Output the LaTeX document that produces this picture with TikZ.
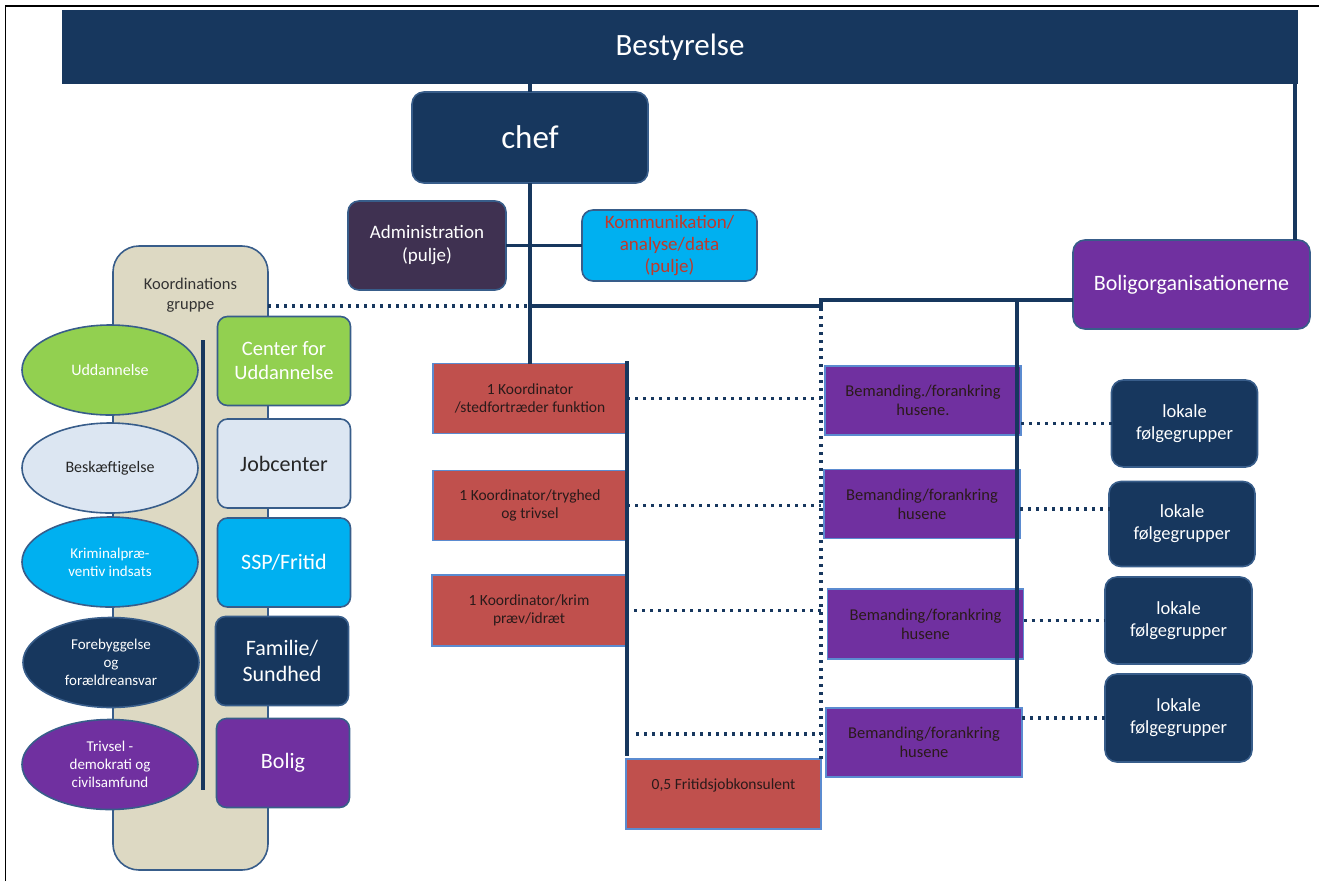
\documentclass[tikz,border=0pt]{standalone}
\usepackage{fontspec}
\setmainfont{Carlito}
\usetikzlibrary{shapes.geometric}
\definecolor{navy}{HTML}{17375E}
\definecolor{purp}{HTML}{7030A0}
\definecolor{cyanb}{HTML}{00B0F0}
\definecolor{greenb}{HTML}{92D050}
\definecolor{lightb}{HTML}{DCE6F2}
\definecolor{redb}{HTML}{C0504D}
\definecolor{tanb}{HTML}{DDD9C3}
\definecolor{adminc}{HTML}{3F3151}
\definecolor{edgeb}{HTML}{385D8A}
\definecolor{edgel}{HTML}{5B8BD0}
\definecolor{ktext}{HTML}{C0392B}
\definecolor{dtext}{HTML}{2A1A1A}
\newcommand\fsz[2]{\fontsize{#1}{#2}\selectfont}
\begin{document}
\begin{tikzpicture}[x=1pt,y=-1pt,
  box/.style={draw=edgeb, line width=1.6pt, inner sep=2pt, outer sep=0pt, align=center, anchor=center},
  rbox/.style={box, rounded corners=12pt},
  sbox/.style={box, draw=edgel, line width=1.8pt},
  ell/.style={box, ellipse, minimum width=176pt, minimum height=90pt, inner sep=0pt},
  lbox/.style={rbox, rounded corners=10pt, minimum width=133pt, minimum height=89pt},
  redbox/.style={sbox, fill=redb, text=dtext, minimum width=194pt, minimum height=70pt, font=\fsz{15.5}{18.5}},
  bembox/.style={sbox, fill=purp, text=dtext, minimum width=196pt, minimum height=69pt, font=\fsz{16.5}{19}},
  lokbox/.style={rbox, fill=navy, text=white, minimum width=146pt, minimum height=87pt, font=\fsz{18.5}{22}},
  conn/.style={draw=navy, line width=3.4pt},
  dotc/.style={draw=navy, line width=3.4pt, dash pattern=on 3pt off 5pt}]
\useasboundingbox (0,0) rectangle (1319,881);
% frame
\draw[line width=1.8pt, black] (5.5,881) -- (5.5,6) -- (1319,6);

% top
\node[box, draw=none, fill=navy, text=white, minimum width=1236pt, minimum height=74pt, font=\fsz{31}{36}] (best) at (680,47) {Bestyrelse};
\node[rbox, fill=navy, text=white, minimum width=236pt, minimum height=91pt, font=\fsz{33}{38}] (chef) at (530,137.5) {chef};
\node[rbox, rounded corners=11pt, fill=adminc, text=white, minimum width=158pt, minimum height=89pt, font=\fsz{19}{23}] (admin) at (427,245.5) {Administration\\(pulje)};
\node[rbox, rounded corners=11pt, fill=cyanb, text=ktext, minimum width=175pt, minimum height=71pt, font=\fsz{19}{22}] (komm) at (669.5,245.5) {Kommunikation/\\analyse/data\\(pulje)};
\node[rbox, fill=purp, text=white, minimum width=237pt, minimum height=89pt, font=\fsz{22}{25}] (borg) at (1191.5,284.5) {Boligorganisationerne};

% koordinationsgruppe
\node[box, rounded corners=26pt, fill=tanb, minimum width=155pt, minimum height=624pt] (kg) at (190.5,558) {};
\node[text=black!80, align=center, font=\fsz{16.5}{19.5}] (kgt) at (190.5,295) {Koordinations\\gruppe};
\coordinate (kl1) at (203,340);
\coordinate (kl2) at (203,790);
\draw[conn] (kl1) -- (kl2);

% ellipses
\node[ell, fill=greenb, text=white, font=\fsz{16}{18}] (e1) at (110,370) {Uddannelse};
\node[ell, fill=lightb, text=black!85, font=\fsz{16}{18}] (e2) at (110,468) {Beskæftigelse};
\node[ell, fill=cyanb, text=white, font=\fsz{15}{18}] (e3) at (110,562) {Kriminalpræ-\\ventiv indsats};
\node[ell, fill=navy, text=white, font=\fsz{15}{18}] (e4) at (111,662.5) {Forebyggelse\\og\\forældreansvar};
\node[ell, fill=purp, text=white, font=\fsz{15}{18}] (e5) at (110,764.5) {Trivsel -\\demokrati og\\civilsamfund};

% right column boxes
\node[lbox, fill=greenb, text=white, font=\fsz{20.5}{24}] (b1) at (284,361) {Center for\\Uddannelse};
\node[lbox, fill=lightb, text=black!85, font=\fsz{22}{26}] (b2) at (284,463.5) {Jobcenter};
\node[lbox, fill=cyanb, text=white, font=\fsz{22}{26}] (b3) at (284,562.5) {SSP/Fritid};
\node[lbox, fill=navy, text=white, font=\fsz{22}{26}] (b4) at (282,661) {Familie/\\Sundhed};
\node[lbox, fill=purp, text=white, font=\fsz{22}{26}] (b5) at (283,763) {Bolig};

% coordinators
\node[redbox] (r1) at (530,398.5) {1 Koordinator\\/stedfortræder funktion};
\node[redbox] (r2) at (530,505.5) {1 Koordinator/tryghed\\og trivsel};
\node[redbox, minimum height=71pt] (r3) at (529,610.5) {1 Koordinator/krim\\præv/idræt};
\node[sbox, fill=redb, minimum width=195pt, minimum height=70pt] (r4) at (723.5,794) {};
\node[text=dtext, font=\fsz{15.5}{18.5}] (r4t) at (723.5,785) {0,5 Fritidsjobkonsulent};

% bemanding
\node[bembox] (m1) at (923,400.5) {Bemanding./forankring\\husene.};
\node[bembox] (m2) at (922,504) {Bemanding/forankring\\husene};
\node[bembox, minimum height=70pt] (m3) at (925.5,624) {Bemanding/forankring\\husene};
\node[bembox] (m4) at (924,742.5) {Bemanding/forankring\\husene};

% lokale
\node[lokbox] (l1) at (1184.5,423.5) {lokale\\følgegrupper};
\node[lokbox, minimum height=85pt] (l2) at (1182,524) {lokale\\følgegrupper};
\node[lokbox, minimum width=147pt] (l3) at (1178.5,620.5) {lokale\\følgegrupper};
\node[lokbox, minimum width=147pt, minimum height=88pt] (l4) at (1178.5,718) {lokale\\følgegrupper};

% coordinates
\coordinate (j1) at (531,306);
\coordinate (j2) at (821,306);
\coordinate (j3) at (821,300);
\coordinate (j4) at (1017,300);
\coordinate (bx) at (1295,240);
\coordinate (k1) at (627,361);
\coordinate (k2) at (627,756);
\coordinate (d4) at (636,734);
\coordinate (dl2) at (1110,509);

% solid connectors
\draw[conn] (chef.north) -- (chef.north |- best.south);
\draw[conn] (chef.south) -- (r1.north);
\draw[conn] (admin.east) -- (komm.west);
\draw[conn] (j1) -- (j2) -- (j3) -- (j3 -| borg.west);
\draw[conn] (bx) -- (bx |- best.south);
\draw[conn] (j4) -- (j4 |- m4.north);
\draw[conn] (k1) -- (k2);

% dotted connectors
\draw[dotc] (kg.east |- j1) -- (j1);
\draw[dotc] (j3) -- (j3 |- r4.north);
\draw[dotc] (r1.east) -- (r1.east -| j2);
\draw[dotc] (r2.east) -- (r2.east -| j2);
\draw[dotc] (r3.east) -- (r3.east -| j2);
\draw[dotc] (d4) -- (d4 -| j2);
\draw[dotc] (l1.west -| m1.east) -- (l1.west);
\draw[dotc] (dl2 -| m2.east) -- (dl2);
\draw[dotc] (l3.west -| m3.east) -- (l3.west);
\draw[dotc] (l4.west -| m4.east) -- (l4.west);
\end{tikzpicture}
\end{document}
